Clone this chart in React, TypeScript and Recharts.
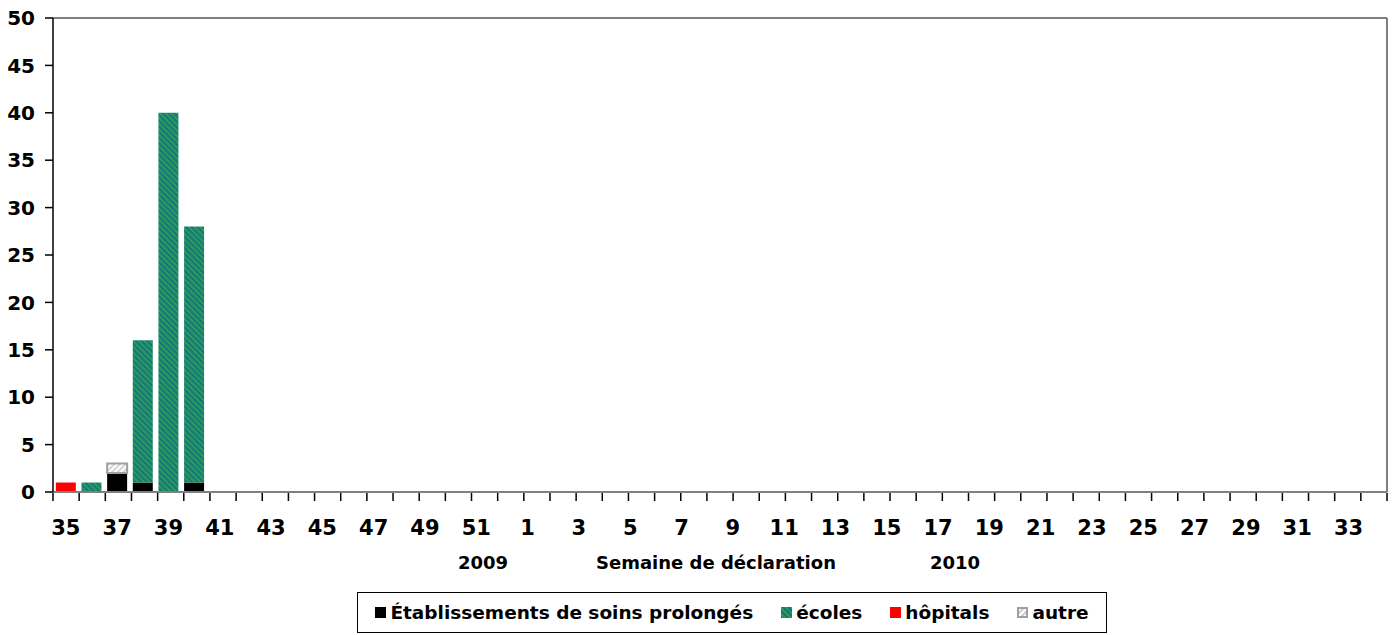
import React from "react";
import { BarChart, Bar, XAxis, YAxis } from "recharts";

const weeks = [
  "35", "36", "37", "38", "39", "40", "41", "42", "43", "44", "45", "46", "47", "48", "49", "50", "51", "52",
  "1", "2", "3", "4", "5", "6", "7", "8", "9", "10", "11", "12", "13", "14", "15", "16", "17",
  "18", "19", "20", "21", "22", "23", "24", "25", "26", "27", "28", "29", "30", "31", "32", "33", "34",
];
const soinsProlonges = [0, 0, 2, 1, 0, 1, 0, 0, 0, 0, 0, 0, 0, 0, 0, 0, 0, 0, 0, 0, 0, 0, 0, 0, 0, 0, 0, 0, 0, 0, 0, 0, 0, 0, 0, 0, 0, 0, 0, 0, 0, 0, 0, 0, 0, 0, 0, 0, 0, 0, 0, 0];
const ecoles = [0, 1, 0, 15, 40, 27, 0, 0, 0, 0, 0, 0, 0, 0, 0, 0, 0, 0, 0, 0, 0, 0, 0, 0, 0, 0, 0, 0, 0, 0, 0, 0, 0, 0, 0, 0, 0, 0, 0, 0, 0, 0, 0, 0, 0, 0, 0, 0, 0, 0, 0, 0];
const hopitaux = [1, 0, 0, 0, 0, 0, 0, 0, 0, 0, 0, 0, 0, 0, 0, 0, 0, 0, 0, 0, 0, 0, 0, 0, 0, 0, 0, 0, 0, 0, 0, 0, 0, 0, 0, 0, 0, 0, 0, 0, 0, 0, 0, 0, 0, 0, 0, 0, 0, 0, 0, 0];
const autre = [0, 0, 1, 0, 0, 0, 0, 0, 0, 0, 0, 0, 0, 0, 0, 0, 0, 0, 0, 0, 0, 0, 0, 0, 0, 0, 0, 0, 0, 0, 0, 0, 0, 0, 0, 0, 0, 0, 0, 0, 0, 0, 0, 0, 0, 0, 0, 0, 0, 0, 0, 0];
const yTicks = [0, 5, 10, 15, 20, 25, 30, 35, 40, 45, 50];
const boundaryTicks = weeks.map((_, i) => i).concat([weeks.length]);

const data = weeks.map((w, i) => ({
  week: w,
  soins: soinsProlonges[i],
  ecoles: ecoles[i],
  hopitaux: hopitaux[i],
  autre: autre[i],
}));

const FONT = "'DejaVu Sans', 'Liberation Sans', Arial, sans-serif";

const Swatch = ({ kind }: { kind: string }) => {
  let style: React.CSSProperties = { width: 11, height: 11, display: "inline-block", marginRight: 4, boxSizing: "border-box" };
  if (kind === "soins") style.background = "#000";
  if (kind === "ecoles") style.background = "repeating-linear-gradient(45deg, #0b7d78 0px, #0b7d78 2px, #36955f 2px, #36955f 4px)";
  if (kind === "hopitaux") style.background = "#ff0000";
  if (kind === "autre") {
    style.background = "repeating-linear-gradient(-45deg, #ffffff 0px, #ffffff 2px, #d0d0d0 2px, #d0d0d0 4px)";
    style.border = "2px solid #a0a0a0";
  }
  return <span style={style} />;
};

const legendItems = [
  { kind: "soins", label: "Établissements de soins prolongés" },
  { kind: "ecoles", label: "écoles" },
  { kind: "hopitaux", label: "hôpitals" },
  { kind: "autre", label: "autre" },
];

export default function App() {
  return (
    <div style={{ position: "relative", width: 1396, height: 635, margin: "-8px 0 0 -8px", fontFamily: FONT }}>
      <BarChart
        width={1396}
        height={635}
        data={data}
        margin={{ top: 17, right: 8, left: 0, bottom: 141 }}
        barCategoryGap="11%"
      >
        <defs>
          <pattern id="ecolesPat" patternUnits="userSpaceOnUse" width="4" height="4" patternTransform="rotate(-45)">
            <rect x="0" y="0" width="4" height="4" fill="#0b7d78" />
            <rect x="0" y="0" width="2" height="4" fill="#36955f" />
          </pattern>
          <pattern id="autrePat" patternUnits="userSpaceOnUse" width="4" height="4" patternTransform="rotate(45)">
            <rect x="0" y="0" width="4" height="4" fill="#ffffff" />
            <rect x="0" y="0" width="2" height="4" fill="#d4d4d4" />
          </pattern>
        </defs>
        <XAxis
          xAxisId="grid"
          type="number"
          domain={[0, weeks.length]}
          ticks={boundaryTicks}
          allowDataOverflow
          tickFormatter={() => ""}
          tickSize={8}
          tickLine={{ stroke: "#000", strokeWidth: 1.5 }}
          axisLine={false}
          height={1}
          interval={0}
        />
        <XAxis
          xAxisId="cat"
          dataKey="week"
          interval={1}
          tickLine={false}
          tickSize={0}
          tickMargin={28}
          axisLine={{ stroke: "#808080", strokeWidth: 2 }}
          tick={{ fill: "#000", fontSize: 21, fontWeight: "bold", fontFamily: FONT }}
          height={1}
        />
        <XAxis
          xAxisId="top"
          orientation="top"
          dataKey="week"
          tick={false}
          tickLine={false}
          axisLine={{ stroke: "#808080", strokeWidth: 2 }}
          height={1}
        />
        <YAxis
          yAxisId="left"
          domain={[0, 50]}
          ticks={yTicks}
          interval={0}
          width={53}
          tickSize={8}
          tickMargin={10}
          axisLine={{ stroke: "#000", strokeWidth: 1.5 }}
          tickLine={{ stroke: "#000", strokeWidth: 1.5 }}
          tick={{ fill: "#000", fontSize: 20, fontWeight: "bold", fontFamily: FONT }}
        />
        <YAxis
          yAxisId="right"
          orientation="right"
          domain={[0, 50]}
          tick={false}
          tickLine={false}
          axisLine={{ stroke: "#808080", strokeWidth: 2 }}
          width={1}
        />
        <Bar xAxisId="cat" yAxisId="left" dataKey="soins" stackId="s" fill="#000" isAnimationActive={false} />
        <Bar xAxisId="cat" yAxisId="left" dataKey="ecoles" stackId="s" fill="url(#ecolesPat)" isAnimationActive={false} />
        <Bar xAxisId="cat" yAxisId="left" dataKey="hopitaux" stackId="s" fill="#ff0000" isAnimationActive={false} />
        <Bar xAxisId="cat" yAxisId="left" dataKey="autre" stackId="s" fill="url(#autrePat)" stroke="#a0a0a0" strokeWidth={2} isAnimationActive={false} />
      </BarChart>

      <div style={{ position: "absolute", top: 552, left: 0, width: 1396, height: 22, fontSize: 18, fontWeight: "bold", color: "#000" }}>
        <span style={{ position: "absolute", left: 483, transform: "translateX(-50%)" }}>2009</span>
        <span style={{ position: "absolute", left: 716, transform: "translateX(-50%)", whiteSpace: "nowrap" }}>Semaine de déclaration</span>
        <span style={{ position: "absolute", left: 955, transform: "translateX(-50%)" }}>2010</span>
      </div>

      <div
        style={{
          position: "absolute",
          left: 357,
          top: 592,
          width: 750,
          height: 41,
          boxSizing: "border-box",
          border: "1px solid #000",
          display: "flex",
          alignItems: "center",
          justifyContent: "center",
          gap: 28,
          fontSize: 18.5,
          fontWeight: "bold",
          color: "#000",
          background: "#fff",
        }}
      >
        {legendItems.map((it) => (
          <span key={it.kind} style={{ display: "inline-flex", alignItems: "center", whiteSpace: "nowrap" }}>
            <Swatch kind={it.kind} />
            {it.label}
          </span>
        ))}
      </div>
    </div>
  );
}
